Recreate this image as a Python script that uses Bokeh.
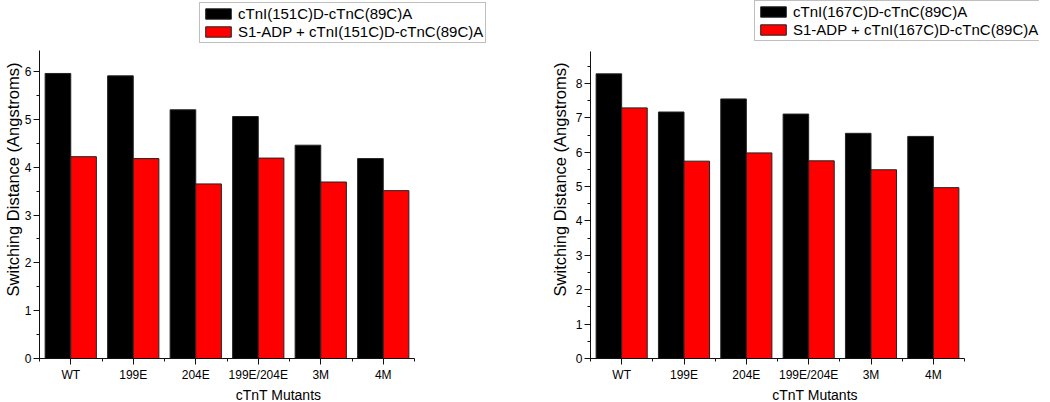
import numpy as np
from bokeh.plotting import figure
from bokeh.layouts import row
from bokeh.models import (Range1d, FixedTicker, SingleIntervalTicker, Legend, LegendItem,
                          ColumnDataSource)
from bokeh.embed import file_html
from bokeh.resources import INLINE

categories = ["WT", "199E", "204E", "199E/204E", "3M", "4M"]
left_black = [5.96, 5.91, 5.20, 5.06, 4.46, 4.18]
left_red = [4.22, 4.18, 3.65, 4.19, 3.69, 3.51]
right_black = [8.28, 7.17, 7.55, 7.11, 6.55, 6.46]
right_red = [7.29, 5.74, 5.98, 5.75, 5.49, 4.97]
left_labels = ["cTnI(151C)D-cTnC(89C)A", "S1-ADP + cTnI(151C)D-cTnC(89C)A"]
right_labels = ["cTnI(167C)D-cTnC(89C)A", "S1-ADP + cTnI(167C)D-cTnC(89C)A"]

FONT = "Liberation Sans"
BAR_W = 0.41


def make_panel(black, red, labels, ymax, bl, bb, fw, fh, data_w, data_h, leg_xy,
               ylab_standoff):
    """fw/fh: frame size in px; data_w/data_h: px occupied by the axes' data extent."""
    n = len(categories)
    centers = np.arange(n) + 0.5
    x_end = n * fw / data_w
    y_end = ymax * fh / data_h
    p = figure(output_backend="svg", toolbar_location=None,
               frame_width=fw, frame_height=fh,
               min_border_left=bl, min_border_right=0,
               min_border_top=0, min_border_bottom=bb,
               x_range=Range1d(0, x_end), y_range=Range1d(0, y_end))
    p.xgrid.visible = False
    p.ygrid.visible = False
    p.outline_line_color = None
    p.background_fill_color = "white"
    p.border_fill_color = "white"

    src = ColumnDataSource(dict(xb=centers - BAR_W / 2, xr=centers + BAR_W / 2,
                                black=black, red=red))
    rb = p.vbar(x="xb", top="black", width=BAR_W, source=src,
                fill_color="black", line_color="#222222", line_width=1)
    rr = p.vbar(x="xr", top="red", width=BAR_W, source=src,
                fill_color="#ff0000", line_color="#222222", line_width=1)

    xa = p.xaxis[0]
    xa.ticker = FixedTicker(ticks=list(centers), minor_ticks=list(range(n + 1)))
    xa.major_label_overrides = {float(c): lab for c, lab in zip(centers, categories)}
    xa.axis_label = "cTnT Mutants"
    xa.bounds = (0, n)
    ya = p.yaxis[0]
    ya.ticker = SingleIntervalTicker(interval=1, num_minor_ticks=2)
    ya.axis_label = "Switching Distance (Angstroms)"
    ya.bounds = (0, ymax)
    for ax in (xa, ya):
        ax.axis_line_color = "#111111"
        ax.major_tick_line_color = "#111111"
        ax.minor_tick_line_color = "#111111"
        ax.major_tick_in = 0
        ax.major_tick_out = 6
        ax.minor_tick_in = 0
        ax.minor_tick_out = 3
        ax.major_label_text_font = FONT
        ax.major_label_text_font_size = "12px"
        ax.major_label_text_color = "black"
        ax.axis_label_text_font = FONT
        ax.axis_label_text_font_style = "normal"
        ax.axis_label_text_color = "black"
    xa.axis_label_text_font_size = "14px"
    ya.axis_label_text_font_size = "16.5px"
    xa.major_label_standoff = 3
    xa.axis_label_standoff = 2
    ya.major_label_standoff = 2
    ya.axis_label_standoff = ylab_standoff

    leg = Legend(items=[LegendItem(label=labels[0], renderers=[rb]),
                        LegendItem(label=labels[1], renderers=[rr])],
                 location=leg_xy, orientation="vertical",
                 border_line_color="#7f7f7f", border_line_width=1,
                 background_fill_color="white", background_fill_alpha=1.0,
                 label_text_font=FONT, label_text_font_size="15px",
                 label_text_color="black",
                 glyph_width=32, glyph_height=13, label_height=16,
                 label_standoff=4, padding=2, spacing=1, margin=0)
    p.add_layout(leg)
    return p


p1 = make_panel(left_black, left_red, left_labels, 6.44,
                bl=34, bb=40, fw=478, fh=358, data_w=375, data_h=308,
                leg_xy=(160, 315), ylab_standoff=0)
p2 = make_panel(right_black, right_red, right_labels, 8.93,
                bl=73, bb=40, fw=449, fh=358, data_w=374, data_h=307,
                leg_xy=(164, 317), ylab_standoff=4)

layout = row(p1, p2)
open("out.html", "w").write(file_html(layout, INLINE))
